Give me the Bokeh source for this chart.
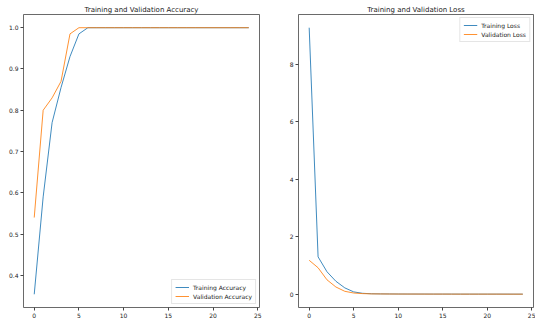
from bokeh.plotting import figure
from bokeh.layouts import row
from bokeh.models import Range1d, FixedTicker, Legend, LegendItem, PrintfTickFormatter
from bokeh.embed import file_html
from bokeh.resources import INLINE

epochs = [0, 1, 2, 3, 4, 5, 6, 7, 8, 9, 10, 11, 12, 13, 14, 15, 16, 17, 18, 19, 20, 21, 22, 23, 24]
train_acc = [0.354, 0.59, 0.77, 0.855, 0.93, 0.985, 1.0, 1.0, 1.0, 1.0, 1.0, 1.0, 1.0,
             1.0, 1.0, 1.0, 1.0, 1.0, 1.0, 1.0, 1.0, 1.0, 1.0, 1.0, 1.0]
val_acc = [0.54, 0.80, 0.83, 0.87, 0.985, 1.0, 1.0, 1.0, 1.0, 1.0, 1.0, 1.0, 1.0,
           1.0, 1.0, 1.0, 1.0, 1.0, 1.0, 1.0, 1.0, 1.0, 1.0, 1.0, 1.0]
train_loss = [9.28, 1.30, 0.78, 0.45, 0.22, 0.08, 0.03, 0.015, 0.01, 0.008, 0.006, 0.005, 0.004,
              0.004, 0.003, 0.003, 0.003, 0.002, 0.002, 0.002, 0.002, 0.002, 0.002, 0.001, 0.001]
val_loss = [1.18, 0.92, 0.50, 0.25, 0.10, 0.04, 0.02, 0.01, 0.008, 0.006, 0.005, 0.004, 0.004,
            0.003, 0.003, 0.003, 0.002, 0.002, 0.002, 0.002, 0.002, 0.002, 0.001, 0.001, 0.001]

x_ticks = [0, 5, 10, 15, 20, 25]
acc_ticks = [0.4, 0.5, 0.6, 0.7, 0.8, 0.9, 1.0]
loss_ticks = [0, 2, 4, 6, 8]

BLUE = "#1f77b4"
ORANGE = "#ff7f0e"
FONT = "DejaVu Sans"


def style(p, yticks):
    p.title.text_font = FONT
    p.title.text_font_size = "7px"
    p.title.text_font_style = "normal"
    p.title.text_color = "#222222"
    p.title.align = "center"
    p.title.standoff = 2
    p.outline_line_color = "#444444"
    p.outline_line_width = 0.8
    p.xgrid.visible = False
    p.ygrid.visible = False
    p.xaxis.ticker = FixedTicker(ticks=x_ticks)
    p.yaxis.ticker = FixedTicker(ticks=yticks)
    for ax in (p.xaxis, p.yaxis):
        ax.axis_line_color = None
        ax.major_tick_line_color = "#444444"
        ax.major_tick_in = 0
        ax.major_tick_out = 3
        ax.minor_tick_line_color = None
        ax.major_label_text_font = FONT
        ax.major_label_text_font_size = "6px"
        ax.major_label_text_color = "#222222"
        ax.major_label_standoff = 2
    p.background_fill_color = "white"
    p.border_fill_color = "white"


p1 = figure(frame_width=236, frame_height=293, output_backend="svg", toolbar_location=None,
            title="Training and Validation Accuracy",
            x_range=Range1d(-1.2, 25.2), y_range=Range1d(0.322, 1.032),
            min_border_left=23, min_border_right=3, min_border_top=14, min_border_bottom=11)
style(p1, acc_ticks)
p1.yaxis.formatter = PrintfTickFormatter(format="%.1f")
r1 = p1.line(epochs, train_acc, line_color=BLUE, line_width=1, line_alpha=0.85)
r2 = p1.line(epochs, val_acc, line_color=ORANGE, line_width=1, line_alpha=0.85)
leg1 = Legend(items=[LegendItem(label="Training Accuracy", renderers=[r1]),
                     LegendItem(label="Validation Accuracy", renderers=[r2])],
              location="bottom_right")

p2 = figure(frame_width=235, frame_height=293, output_backend="svg", toolbar_location=None,
            title="Training and Validation Loss",
            x_range=Range1d(-1.2, 25.2), y_range=Range1d(-0.464, 9.74),
            min_border_left=36, min_border_right=2, min_border_top=14, min_border_bottom=11)
style(p2, loss_ticks)
r3 = p2.line(epochs, train_loss, line_color=BLUE, line_width=1, line_alpha=0.85)
r4 = p2.line(epochs, val_loss, line_color=ORANGE, line_width=1, line_alpha=0.85)
leg2 = Legend(items=[LegendItem(label="Training Loss", renderers=[r3]),
                     LegendItem(label="Validation Loss", renderers=[r4])],
              location="top_right")

for p, leg in ((p1, leg1), (p2, leg2)):
    leg.label_text_font = FONT
    leg.label_text_font_size = "6px"
    leg.label_text_color = "#222222"
    leg.label_height = 8
    leg.label_standoff = 4
    leg.glyph_width = 14
    leg.glyph_height = 8
    leg.spacing = 1
    leg.padding = 3
    leg.margin = 3
    leg.border_line_color = "#cccccc"
    leg.border_line_width = 0.8
    leg.background_fill_alpha = 0.8
    p.add_layout(leg)

layout = row(p1, p2)
open("out.html", "w").write(file_html(layout, INLINE))
